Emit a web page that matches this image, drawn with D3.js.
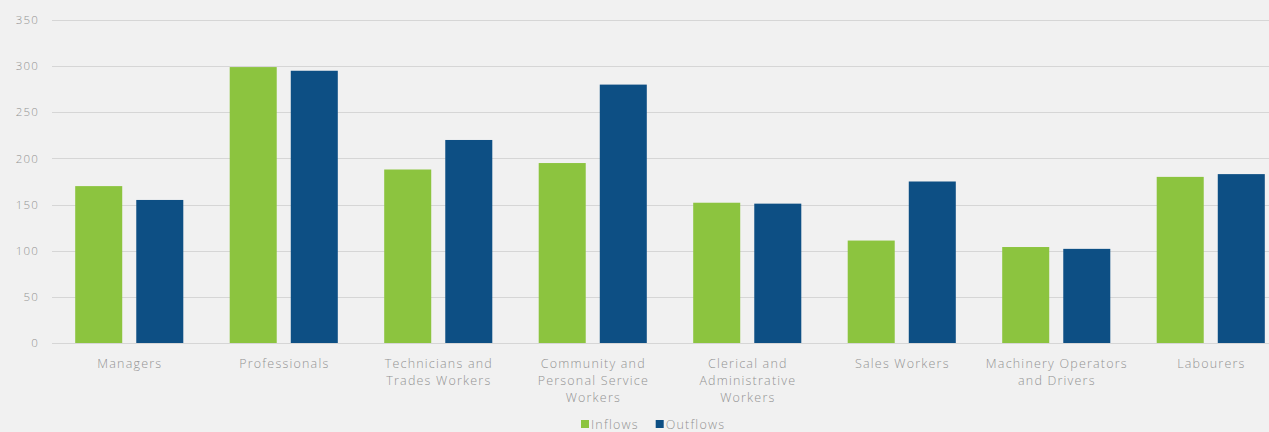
<!DOCTYPE html>
<html><head><meta charset="utf-8">
<script src="https://cdn.jsdelivr.net/npm/d3@7"></script>
<style>
html,body{margin:0;padding:0;background:#f1f1f1;overflow:hidden}
text{font-family:"Open Sans",Lato,sans-serif;font-weight:300;fill:#939393;letter-spacing:1.2px}
</style></head><body>
<svg id="c" width="1269" height="432"></svg>
<script>
const categories = [
  ["Managers"],
  ["Professionals"],
  ["Technicians and", "Trades Workers"],
  ["Community and", "Personal Service", "Workers"],
  ["Clerical and", "Administrative", "Workers"],
  ["Sales Workers"],
  ["Machinery Operators", "and Drivers"],
  ["Labourers"]
];
const inflows  = [170, 299, 188, 195, 152, 111, 104, 180];
const outflows = [155, 295, 220, 280, 151, 175, 102, 183];
const seriesNames = ["Inflows", "Outflows"];
const seriesColors = ["#8cc43f", "#0d4f84"];
const yTicks = [0, 50, 100, 150, 200, 250, 300, 350];

const svg = d3.select("#c");
const mLeft = 52, mRight = 1288, mTop = 20, mBottom = 343;
const keys = categories.map((c,i)=>"c"+i);
const x = d3.scaleBand().domain(keys).range([mLeft, mRight]).paddingInner(0).paddingOuter(0);
const y = d3.scaleLinear().domain([0, 350]).range([mBottom, mTop]);

// gridlines
svg.append("g").selectAll("line").data(yTicks).join("line")
  .attr("x1", mLeft).attr("x2", 1269)
  .attr("y1", d=>Math.round(y(d))+0.5).attr("y2", d=>Math.round(y(d))+0.5)
  .attr("stroke", "#d6d6d6").attr("stroke-width", 1.2);

// y axis labels
const yAxis = d3.axisLeft(y).tickValues(yTicks).tickSize(0).tickPadding(0);
const ya = svg.append("g").attr("transform", `translate(39,0)`).call(yAxis);
ya.select(".domain").remove();
ya.selectAll("text").style("font-size","11.5px").attr("fill","#939393").attr("font-family",null);

const inner = d3.scaleBand().domain([0,1]).range([0, x.bandwidth()]).paddingInner(0.23).paddingOuter(0.38);
const g = svg.append("g");
[inflows, outflows].forEach((vals, s) => {
  g.selectAll(".b"+s).data(vals).join("rect")
    .attr("x", (d,i)=>x(keys[i]) + inner(s))
    .attr("width", inner.bandwidth())
    .attr("y", d=>y(d)).attr("height", d=>y(0)-y(d))
    .attr("fill", seriesColors[s]);
});

// x labels
const xl = svg.append("g");
categories.forEach((lines,i)=>{
  const cx = x(keys[i]) + x.bandwidth()/2 + 0.6;
  const t = xl.append("text").attr("x", cx).attr("y", 368)
    .attr("text-anchor","middle").style("font-size","12.5px");
  lines.forEach((l,j)=>t.append("tspan").attr("x", cx).attr("dy", j===0?0:17).text(l));
});

// legend
const lg = svg.append("g").attr("transform","translate(581,419)");
let lx = 0;
seriesNames.forEach((n,s)=>{
  lg.append("rect").attr("x", lx).attr("y", 1).attr("width", 8).attr("height", 8).attr("fill", seriesColors[s]);
  const t = lg.append("text").attr("x", lx+10).attr("y", 10).style("font-size","12.5px").text(n);
  lx += 10 + t.node().getComputedTextLength() + 17;
});
</script></body></html>
